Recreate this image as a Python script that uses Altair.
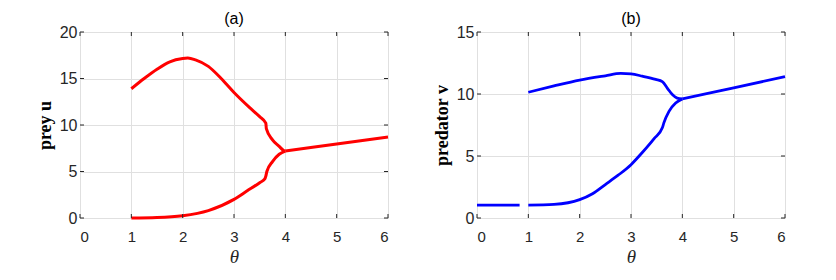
import altair as alt
import pandas as pd

# ---------- data ----------
# panel (a): prey u vs theta
theta_a_upper = [1.0, 1.25, 1.5, 1.75, 2.0, 2.1, 2.25, 2.5, 2.75, 3.0, 3.3, 3.5, 3.62, 3.63, 3.75, 3.88, 3.97, 4.0]
u_upper = [13.9, 15.0, 16.0, 16.8, 17.15, 17.2, 17.0, 16.3, 15.0, 13.5, 11.9, 10.9, 10.2, 9.6, 8.4, 7.7, 7.25, 7.2]
theta_a_lower = [1.0, 1.5, 2.0, 2.5, 3.0, 3.25, 3.5, 3.6, 3.62, 3.64, 3.75, 3.88, 4.0]
u_lower = [0.0, 0.05, 0.25, 0.8, 2.0, 2.9, 3.8, 4.2, 4.5, 5.0, 6.07, 6.86, 7.2]
theta_a_right = [4.0, 5.0, 6.0]
u_right = [7.2, 7.95, 8.7]

# panel (b): predator v vs theta
theta_b_left = [0.0, 0.83]
v_left = [1.04, 1.04]
theta_b_upper = [1.0, 1.5, 2.0, 2.5, 2.8, 3.0, 3.22, 3.48, 3.61, 3.71, 3.81, 3.9, 4.0]
v_upper = [10.14, 10.65, 11.12, 11.47, 11.66, 11.62, 11.44, 11.18, 11.0, 10.46, 9.93, 9.67, 9.6]
theta_b_lower = [1.0, 1.5, 2.0, 2.25, 2.5, 2.75, 3.0, 3.22, 3.45, 3.61, 3.64, 3.74, 3.87, 4.0]
v_lower = [1.04, 1.1, 1.48, 1.96, 2.7, 3.45, 4.3, 5.28, 6.4, 7.27, 7.67, 8.6, 9.27, 9.6]
theta_b_right = [4.0, 5.0, 6.0]
v_right = [9.6, 10.5, 11.4]

x_ticks = [0, 1, 2, 3, 4, 5, 6]
y_ticks_a = [0, 5, 10, 15, 20]
y_ticks_b = [0, 5, 10, 15]

W, H = 308, 186
TICK_LEN = 4
AX_COL = "#262626"
GRID_COL = "#e0e0e0"
FRAME_COL = "#404040"


def branches(parts):
    rows = []
    for name, xs, ys in parts:
        for x, y in zip(xs, ys):
            rows.append({"branch": name, "theta": x, "val": y})
    return pd.DataFrame(rows)


def panel(df, color, ymax, yticks, ytitle, ptitle, stroke_w):
    xs = alt.Scale(domain=[0, 6], nice=False, zero=False)
    ys = alt.Scale(domain=[0, ymax], nice=False, zero=False)
    xaxis = alt.Axis(values=x_ticks, grid=True, gridColor=GRID_COL, ticks=False, domain=False,
                     labelFont="Liberation Sans", labelFontSize=15, labelColor=AX_COL,
                     labelPadding=11, title="θ", titleFont="Liberation Serif", titleFontSize=19,
                     titleFontStyle="italic", titleFontWeight="normal", titleColor=AX_COL,
                     titleX=W / 2, titleY=44, titleBaseline="alphabetic")
    yaxis = alt.Axis(values=yticks, grid=True, gridColor=GRID_COL, ticks=False, domain=False,
                     labelFont="Liberation Sans", labelFontSize=16, labelColor=AX_COL,
                     labelPadding=3, title=ytitle, titleFont="Liberation Serif", titleFontSize=18,
                     titleFontWeight="bold", titleColor="black",
                     titleX=-26, titleY=H / 2, titleBaseline="bottom", titleAngle=270)
    line = alt.Chart(df).mark_line(color=color, strokeWidth=stroke_w, interpolate="monotone").encode(
        x=alt.X("theta:Q", scale=xs, axis=xaxis),
        y=alt.Y("val:Q", scale=ys, axis=yaxis),
        detail="branch:N",
    )
    xt = pd.DataFrame({"theta": x_ticks})
    yt = pd.DataFrame({"val": yticks})
    bot = alt.Chart(xt).mark_rule(color=AX_COL, strokeWidth=1).encode(
        x=alt.X("theta:Q", scale=xs, axis=xaxis), y=alt.value(H), y2=alt.value(H - TICK_LEN))
    top = alt.Chart(xt).mark_rule(color=AX_COL, strokeWidth=1).encode(
        x=alt.X("theta:Q", scale=xs, axis=xaxis), y=alt.value(0), y2=alt.value(TICK_LEN))
    left = alt.Chart(yt).mark_rule(color=AX_COL, strokeWidth=1).encode(
        y=alt.Y("val:Q", scale=ys, axis=yaxis), x=alt.value(0), x2=alt.value(TICK_LEN))
    right = alt.Chart(yt).mark_rule(color=AX_COL, strokeWidth=1).encode(
        y=alt.Y("val:Q", scale=ys, axis=yaxis), x=alt.value(W - TICK_LEN), x2=alt.value(W))
    return alt.layer(line, bot, top, left, right).properties(
        width=W, height=H,
        title=alt.TitleParams(ptitle, font="Liberation Sans", fontSize=16, fontWeight="normal",
                              color="black", anchor="middle", frame="group", offset=-3),
    )


df_a = branches([("upper", theta_a_upper, u_upper), ("lower", theta_a_lower, u_lower),
                 ("right", theta_a_right, u_right)])
df_b = branches([("left", theta_b_left, v_left), ("upper", theta_b_upper, v_upper),
                 ("lower", theta_b_lower, v_lower), ("right", theta_b_right, v_right)])

pa = panel(df_a, "#ff0000", 20, y_ticks_a, "prey u", "(a)", 3)
pb = panel(df_b, "#0000ff", 15, y_ticks_b, "predator v", "(b)", 2.8)

chart = alt.hconcat(pa, pb, spacing=37).properties(
    padding={"left": 27, "top": 2, "right": 5, "bottom": 5}
).configure_view(stroke=FRAME_COL, strokeWidth=1).configure(background="white")

chart.save("out.html", embed_options={"renderer": "svg", "actions": False})
